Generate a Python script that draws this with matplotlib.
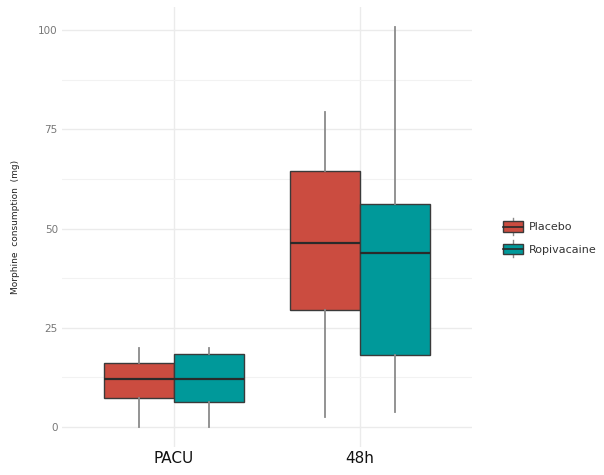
import matplotlib
matplotlib.use("Agg")
import matplotlib.pyplot as plt
from matplotlib.patches import Rectangle
from matplotlib.lines import Line2D
from matplotlib.legend_handler import HandlerBase
import numpy as np

categories = ["PACU", "48h"]
groups = ["Placebo", "Ropivacaine"]
colors = ["#CB4C40", "#00999A"]
# [whislo, q1, med, q3, whishi] per group per category
placebo = [[0, 7.2, 12.2, 16.2, 20], [2.4, 29.4, 46.3, 64.5, 79.5]]
ropivacaine = [[0, 6.3, 12.2, 18.3, 20], [3.9, 18.2, 43.8, 56.3, 100.8]]
yticks = [0, 25, 50, 75, 100]

fig = plt.figure(figsize=(6.04, 4.75), dpi=100)
ax = fig.add_axes([62/604, 28/475, 410/604, 440/475])

for gi, (series, col) in enumerate(zip([placebo, ropivacaine], colors)):
    stats = []
    positions = []
    for ci, v in enumerate(series):
        stats.append(dict(whislo=v[0], q1=v[1], med=v[2], q3=v[3], whishi=v[4], fliers=[]))
        positions.append(ci + 1 + (gi - 0.5) * 0.375)
    ax.bxp(stats, positions=positions, widths=0.375, showfliers=False, showcaps=False,
           patch_artist=True,
           boxprops=dict(facecolor=col, edgecolor="#3a3a3a", linewidth=1.0),
           medianprops=dict(color="#2a2a2a", linewidth=1.6),
           whiskerprops=dict(color="#8a8a8a", linewidth=1.3),
           zorder=3)

ax.set_xlim(0.4, 2.6)
ax.set_ylim(-5.04, 105.84)
ax.set_xticks([1, 2])
ax.set_xticklabels(categories, fontsize=11, color="#111111")
ax.set_yticks(yticks)
ax.set_yticklabels([str(t) for t in yticks], fontsize=7.5, color="#777777")
ax.set_yticks([12.5, 37.5, 62.5, 87.5], minor=True)
ax.tick_params(axis="both", length=0, pad=3)
ax.tick_params(axis="y", which="minor", length=0)
ax.grid(True, which="major", color="#ebebeb", linewidth=1.0, zorder=0)
ax.grid(True, which="minor", axis="y", color="#f2f2f2", linewidth=0.8, zorder=0)
ax.set_axisbelow(True)
for s in ax.spines.values():
    s.set_visible(False)
ax.set_ylabel("Morphine  consumption  (mg)", fontsize=6.5, color="#222222", labelpad=13)


class BoxHandler(HandlerBase):
    def create_artists(self, legend, orig_handle, xdescent, ydescent, width, height, fontsize, trans):
        fc = orig_handle.get_facecolor()
        x0, y0 = -xdescent, -ydescent
        vline = Line2D([x0 + width / 2] * 2, [y0 - height * 0.3, y0 + height * 1.3],
                       color="#8a8a8a", linewidth=1.0, transform=trans)
        rect = Rectangle((x0, y0), width, height, facecolor=fc, edgecolor="#3a3a3a",
                         linewidth=1.0, transform=trans)
        med = Line2D([x0, x0 + width], [y0 + height / 2] * 2, color="#2a2a2a",
                     linewidth=1.2, transform=trans)
        return [vline, rect, med]


handles = []
for g, col in zip(groups, colors):
    handles.append(Rectangle((0, 0), 1, 1, facecolor=col, edgecolor="#3a3a3a", linewidth=1.0))
leg = ax.legend(handles, groups, loc="center left", bbox_to_anchor=(1.05, 0.475),
                frameon=False, fontsize=8, handlelength=1.8, handleheight=1.1,
                labelspacing=1.0, handletextpad=0.6,
                handler_map={Rectangle: BoxHandler()})
for t in leg.get_texts():
    t.set_color("#333333")

fig.savefig("out.png", dpi=100)
